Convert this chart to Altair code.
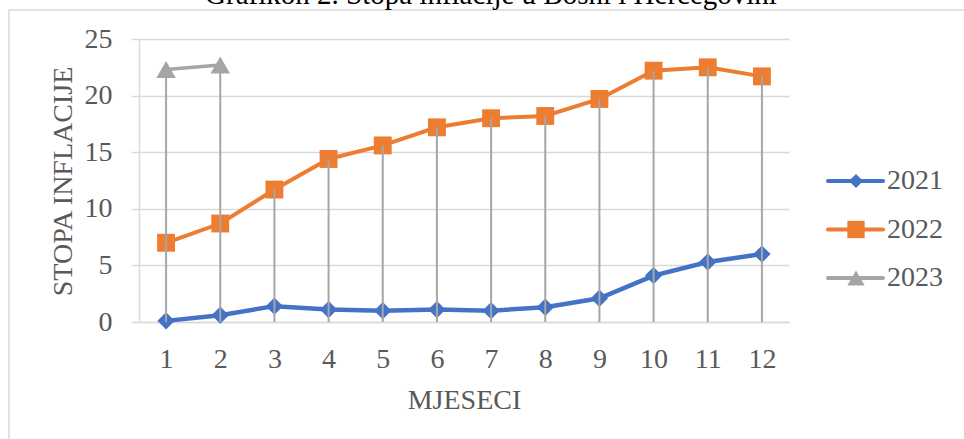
import altair as alt
import pandas as pd

# Monthly inflation rate (%) in Bosnia and Herzegovina
months = list(range(1, 13))
years = ["2021", "2022", "2023"]
rate_2021 = [0.1, 0.6, 1.4, 1.1, 1.0, 1.1, 1.0, 1.3, 2.1, 4.1, 5.3, 6.0]
rate_2022 = [7.0, 8.7, 11.7, 14.4, 15.6, 17.2, 18.0, 18.2, 19.7, 22.2, 22.5, 21.7]
rate_2023 = [22.3, 22.7]

colors = ["#4472C4", "#ED7D31", "#A5A5A5"]
shapes = ["diamond", "square", "triangle-up"]
marker_sizes = [300, 320, 380]
line_widths = [4.5, 3.5, 3.5]

rows = []
for yr, vals in zip(years, [rate_2021, rate_2022, rate_2023]):
    for m, v in zip(months, vals):
        rows.append({"mjesec": m, "godina": yr, "stopa": v})
df = pd.DataFrame(rows)

FONT = "Liberation Serif"
TXT = "#595959"
GRID = "#D9D9D9"

series_stroke = alt.Scale(domain=years, range=colors)

x_enc = alt.X(
    "mjesec:O",
    scale=alt.Scale(type="point", padding=0.5),
    axis=alt.Axis(
        title="MJESECI",
        labelAngle=0,
        ticks=False,
        tickSize=0,
        labelPadding=45,
        labelBaseline="alphabetic",
        titleBaseline="alphabetic",
        titleX=325,
        titleY=86,
        titleAnchor="middle",
        domainColor=GRID,
        domainWidth=1.5,
        grid=False,
    ),
)
y_enc = alt.Y(
    "stopa:Q",
    scale=alt.Scale(domain=[0, 25], nice=False),
    axis=alt.Axis(
        title="STOPA INFLACIJE",
        values=[0, 5, 10, 15, 20, 25],
        tickSize=8,
        tickColor=GRID,
        tickWidth=1.5,
        labelPadding=19,
        domainColor=GRID,
        domainWidth=1.5,
        gridColor=GRID,
        gridWidth=1.5,
        titleAngle=-90,
        titleBaseline="alphabetic",
        titleX=-68,
        titleY=142,
        titleAnchor="middle",
    ),
)

base = alt.Chart(df)

lines = base.mark_line().encode(
    x=x_enc,
    y=y_enc,
    stroke=alt.Stroke("godina:N", scale=series_stroke, legend=None),
    strokeWidth=alt.StrokeWidth("godina:N", scale=alt.Scale(domain=years, range=line_widths), legend=None),
)

# one marker layer per series
marker_layers = [
    base.transform_filter(alt.datum.godina == yr)
    .mark_point(filled=True, opacity=1, shape=shp, size=sz, color=col)
    .encode(x="mjesec:O", y="stopa:Q")
    for yr, shp, sz, col in zip(years, shapes, marker_sizes, colors)
]

# drop lines from the highest value of each month down to the axis
drops = base.transform_aggregate(
    vrh="max(stopa)", groupby=["mjesec"]
).mark_rule(color="#A6A6A6", strokeWidth=2).encode(
    x="mjesec:O",
    y="vrh:Q",
    y2=alt.datum(0),
)

# legend on the right: line key with the series marker and the year label
leg = alt.Chart(pd.DataFrame({"godina": years, "rb": [0, 1, 2]})).transform_calculate(
    ly="142 + 48.5 * datum.rb"
)
leg_y = alt.Y("ly:Q", scale=None, axis=None)
leg_lines = leg.mark_rule(strokeWidth=4, strokeCap="round").encode(
    x=alt.value(689),
    x2=alt.value(744),
    y=leg_y,
    stroke=alt.Stroke("godina:N", scale=series_stroke, legend=None),
)
leg_markers = [
    leg.transform_filter(alt.datum.godina == yr)
    .mark_point(filled=True, opacity=1, shape=shp, size=sz, color=col)
    .encode(x=alt.value(717), y=leg_y)
    for yr, shp, sz, col in zip(years, shapes, [200, 300, 300], colors)
]
leg_text = leg.mark_text(
    align="left", baseline="middle", font=FONT, fontSize=28, color=TXT
).encode(
    x=alt.value(748),
    y=leg_y,
    text="godina:N",
)

one = alt.Data(values=[{}])

frame = alt.Chart(one).mark_rect(
    fill=None, stroke=GRID, strokeWidth=1.5
).encode(
    x=alt.value(-130),
    y=alt.value(-29),
    x2=alt.value(1200),
    y2=alt.value(800),
)

title = alt.Chart(one).mark_text(
    text="Grafikon 2. Stopa inflacije u Bosni i Hercegovini",
    font=FONT,
    fontSize=29,
    color="#000000",
    align="center",
    baseline="alphabetic",
).encode(
    x=alt.value(352),
    y=alt.value(-35),
)

chart = alt.layer(
    frame, title, lines, *marker_layers, drops, leg_lines, *leg_markers, leg_text
).properties(
    width=650,
    height=283,
    autosize=alt.AutoSizeParams(type="none"),
    padding={"left": 139, "top": 39, "right": 175, "bottom": 117},
).configure(
    font=FONT,
    background="white",
).configure_view(
    stroke=None,
).configure_axis(
    labelFont=FONT,
    titleFont=FONT,
    labelFontSize=28,
    titleFontSize=28,
    labelColor=TXT,
    titleColor=TXT,
    titleFontWeight="normal",
)

chart.save("out.html", embed_options={"renderer": "svg", "actions": False})
